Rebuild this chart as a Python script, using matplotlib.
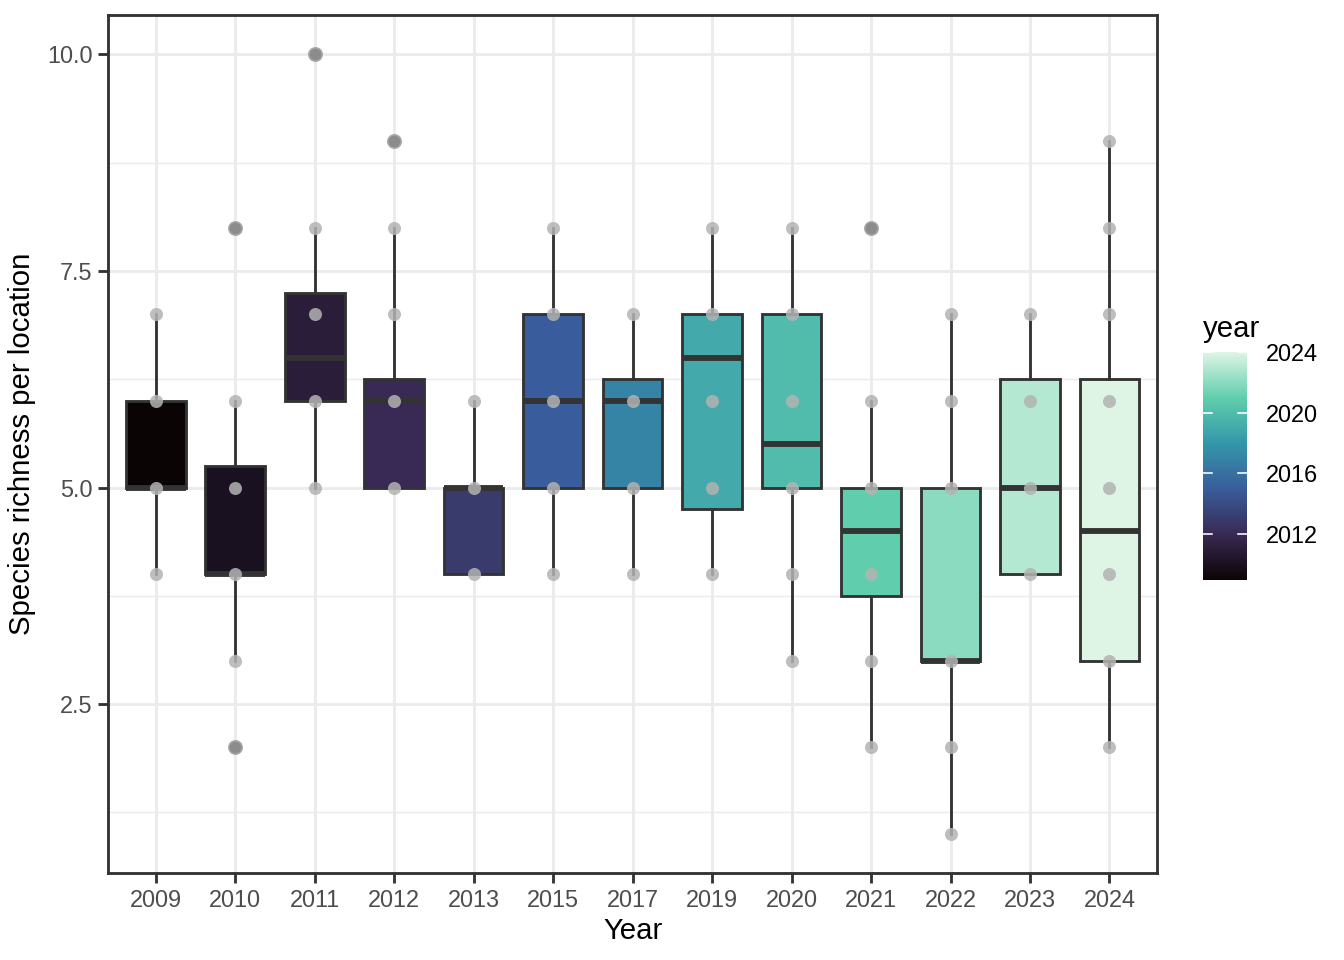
import matplotlib

matplotlib.use("Agg")
import matplotlib.pyplot as plt  # noqa: E402
import numpy as np  # noqa: E402
import seaborn as sns  # noqa: E402
from matplotlib.colors import LinearSegmentedColormap, Normalize  # noqa: E402
from matplotlib.cm import ScalarMappable  # noqa: E402

plt.rcParams["font.family"] = ["Liberation Sans", "DejaVu Sans"]

# box statistics per survey year
YEARS = [2009, 2010, 2011, 2012, 2013, 2015, 2017, 2019, 2020, 2021, 2022, 2023, 2024]
Q1 = [5, 4, 6, 5, 4, 5, 5, 4.75, 5, 3.75, 3, 4, 3]
MED = [5, 4, 6.5, 6, 5, 6, 6, 6.5, 5.5, 4.5, 3, 5, 4.5]
Q3 = [6, 5.25, 7.25, 6.25, 5, 7, 6.25, 7, 7, 5, 5, 6.25, 6.25]
WLO = [4, 3, 5, 5, 4, 4, 4, 4, 3, 2, 1, 4, 2]
WHI = [7, 6, 8, 8, 6, 8, 7, 8, 8, 6, 7, 7, 9]
OUTLIERS = [[], [2, 8], [10], [9], [], [], [], [], [], [8], [], [], []]

# distinct richness values observed per year
POINTS = [
    [4, 5, 6, 7],
    [2, 3, 4, 5, 6, 8],
    [5, 6, 7, 8, 10],
    [5, 6, 7, 8, 9],
    [4, 5, 6],
    [4, 5, 6, 7, 8],
    [4, 5, 6, 7],
    [4, 5, 6, 7, 8],
    [3, 4, 5, 6, 7, 8],
    [2, 3, 4, 5, 6, 8],
    [1, 2, 3, 5, 6, 7],
    [4, 5, 6, 7],
    [2, 3, 4, 5, 6, 7, 8, 9],
]

CBAR_TICKS = [2012, 2016, 2020, 2024]

# like scale_fill_viridis_c: gradient through 6 colours of the palette
mako = sns.color_palette("mako", as_cmap=True)
cmap = LinearSegmentedColormap.from_list("mako6", [mako(v) for v in np.linspace(0, 1, 6)])
norm = Normalize(vmin=min(YEARS), vmax=max(YEARS))

fig = plt.figure(figsize=(7, 5), dpi=192)
ax = fig.add_axes([0.0804, 0.0906, 0.7806, 0.8934])

pos = np.arange(1, len(YEARS) + 1)
stats = []
for i in range(len(YEARS)):
    stats.append({
        "med": MED[i], "q1": Q1[i], "q3": Q3[i],
        "whislo": WLO[i], "whishi": WHI[i], "fliers": OUTLIERS[i],
    })

dark = "#333333"
bp = ax.bxp(
    stats, positions=pos, widths=0.75, patch_artist=True, showcaps=False,
    boxprops=dict(edgecolor=dark, linewidth=1.07),
    whiskerprops=dict(color=dark, linewidth=1.07),
    medianprops=dict(color=dark, linewidth=2.2, solid_capstyle="butt"),
    flierprops=dict(marker="o", markerfacecolor="#8C8C8C", markeredgecolor="#A8A8A8",
                    markeredgewidth=0.6, markersize=5.0, linestyle="none"),
    zorder=2,
)
for patch, yr in zip(bp["boxes"], YEARS):
    patch.set_facecolor(cmap(norm(yr)))
for fl in bp["fliers"]:
    fl.set_zorder(5)

for x, vals in zip(pos, POINTS):
    ax.scatter(np.full(len(vals), x), vals, s=24, color="#B3B3B3", alpha=0.85,
               linewidths=0, zorder=4)

ax.set_xlim(0.4, len(YEARS) + 0.6)
ax.set_ylim(0.55, 10.45)
ax.set_xticks(pos)
ax.set_xticklabels([str(y) for y in YEARS])
ax.set_yticks([2.5, 5.0, 7.5, 10.0])
ax.set_yticklabels(["2.5", "5.0", "7.5", "10.0"])
ax.set_yticks([1.25, 3.75, 6.25, 8.75], minor=True)
ax.grid(True, which="major", color="#EBEBEB", linewidth=1.07, zorder=0)
ax.grid(True, which="minor", axis="y", color="#EBEBEB", linewidth=0.53, zorder=0)
ax.set_axisbelow(True)
ax.tick_params(axis="both", which="major", length=3.7, width=1.07, color="#333333",
               labelsize=8.8, labelcolor="#4D4D4D", pad=2.2)
ax.tick_params(axis="both", which="minor", length=0)
for s in ax.spines.values():
    s.set_color("#333333")
    s.set_linewidth(1.07)
ax.set_xlabel("Year", fontsize=11, labelpad=2)
ax.set_ylabel("Species richness per location", fontsize=11, labelpad=4)

# colourbar legend
cax = fig.add_axes([0.895, 0.396, 0.0327, 0.2375])
cb = fig.colorbar(ScalarMappable(norm=norm, cmap=cmap), cax=cax)
cb.outline.set_visible(False)
cb.set_ticks(CBAR_TICKS)
cax.tick_params(length=0, labelsize=8.8, labelcolor="black", pad=7)
for t in CBAR_TICKS:
    cax.plot([0, 0.2], [t, t], color="white", linewidth=0.6, transform=cax.get_yaxis_transform())
    cax.plot([0.8, 1.0], [t, t], color="white", linewidth=0.6, transform=cax.get_yaxis_transform())
fig.text(0.895, 0.649, "year", fontsize=11, ha="left", va="baseline")

fig.savefig("out.png", dpi=192)
